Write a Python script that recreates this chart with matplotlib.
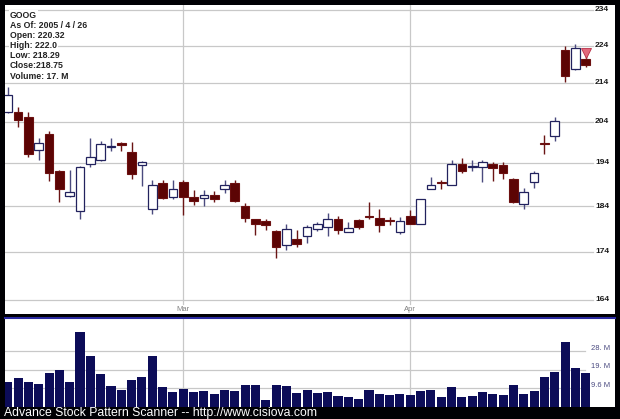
import matplotlib
matplotlib.use("Agg")
from matplotlib import pyplot as plt
from matplotlib import transforms

# daily bars, GOOG 2005-02-03 .. 2005-04-26
opens = [206.4, 206.6, 205.2, 197.2, 200.9, 192.0, 186.4, 182.8, 193.7, 194.6,
         197.8, 198.9, 196.6, 193.5, 183.3, 189.2, 186.0, 189.5, 186.0, 185.8,
         186.5, 187.8, 189.2, 184.1, 181.1, 180.6, 178.5, 175.5, 176.7, 177.3,
         178.8, 179.4, 181.2, 178.2, 180.8, 181.7, 181.3, 180.9, 178.2, 181.8,
         180.1, 187.8, 189.5, 188.8, 193.8, 193.1, 193.1, 193.7, 193.4, 190.2,
         184.4, 189.5, 198.7, 200.5, 222.9, 217.6, 220.32]
highs = [212.9, 207.8, 206.6, 200.1, 201.8, 192.4, 192.4, 193.2, 199.9, 199.4,
         200.1, 199.1, 199.1, 194.5, 189.9, 190.0, 190.0, 190.0, 187.7, 187.7,
         187.4, 189.9, 189.9, 184.8, 181.2, 181.0, 178.7, 180.1, 178.7, 179.7,
         180.5, 182.4, 181.7, 180.4, 181.0, 184.9, 183.4, 181.6, 181.5, 183.1,
         185.5, 190.6, 190.0, 194.6, 195.1, 194.6, 194.6, 194.3, 194.3, 190.4,
         188.1, 192.0, 200.7, 205.3, 224.0, 224.5, 222.0]
lows = [206.3, 202.8, 195.4, 194.6, 189.7, 185.0, 186.0, 181.0, 193.0, 194.4,
        196.8, 196.8, 190.3, 188.6, 182.3, 185.6, 185.6, 181.9, 184.3, 184.1,
        185.0, 186.9, 185.0, 180.4, 177.6, 178.7, 172.6, 174.3, 175.0, 175.8,
        178.4, 177.3, 177.9, 178.2, 179.0, 181.0, 178.2, 179.8, 177.8, 180.0,
        180.0, 187.8, 187.9, 188.8, 191.7, 192.2, 189.4, 189.7, 190.3, 184.7,
        183.3, 188.1, 196.2, 199.2, 214.2, 217.4, 218.29]
closes = [210.9, 204.5, 196.1, 198.9, 191.5, 188.0, 187.3, 193.0, 195.3, 198.6,
          198.0, 198.3, 191.4, 194.1, 188.9, 185.8, 188.0, 186.1, 185.2, 186.6,
          185.7, 188.9, 185.1, 181.4, 180.0, 179.8, 175.0, 178.8, 175.7, 179.3,
          180.1, 181.0, 178.7, 179.1, 179.3, 181.5, 179.8, 180.7, 180.6, 180.1,
          185.5, 188.8, 189.3, 193.8, 192.2, 193.3, 194.1, 192.9, 191.5, 184.9,
          187.2, 191.5, 198.5, 204.3, 215.9, 223.4, 218.75]
volumes = [13.1, 15.2, 13.1, 11.8, 17.6, 19.3, 13.1, 38.9, 26.2, 16.8,
           10.6, 8.7, 13.7, 15.7, 26.2, 10.1, 7.8, 9.5, 7.5, 8.0,
           6.6, 9.0, 8.1, 11.4, 11.1, 3.5, 11.4, 10.6, 7.0, 8.7,
           7.0, 7.6, 5.6, 5.1, 4.0, 9.0, 6.8, 6.4, 6.8, 6.4,
           8.1, 9.0, 5.3, 10.1, 5.3, 5.6, 7.5, 6.8, 6.4, 11.6,
           6.8, 8.5, 15.7, 17.9, 33.4, 20.2, 17.6]  # millions

price_ticks = [234, 224, 214, 204, 194, 184, 174, 164]
vol_ticks = [9.6, 19.2, 28.8]
vol_tick_labels = ["9.6 M", "19. M", "28. M"]
month_idx = [17, 39]
month_labels = ["Mar", "Apr"]
info_lines = ["GOOG", "As Of: 2005 / 4 / 26", "Open: 220.32", "High: 222.0",
              "Low: 218.29", "Close:218.75", "Volume: 17. M"]

W, H = 620, 419
fig = plt.figure(figsize=(W / 100, H / 100), dpi=100, facecolor="#000004")

def rect(x0, y0, x1, y1):
    # pixel box (top-left origin) -> figure fraction
    return [x0 / W, 1 - y1 / H, (x1 - x0) / W, (y1 - y0) / H]

ax = fig.add_axes(rect(5, 5, 615, 314))
vax = fig.add_axes(rect(5, 318, 615, 407))

n = len(opens)
for a in (ax, vax):
    a.set_facecolor("white")
    a.set_xlim(-0.27, 58.84)
    a.set_xticks([])
    a.set_yticks([])
    for s in a.spines.values():
        s.set_visible(False)

ax.set_yscale("log")
ax.set_ylim(161.2, 235.43)
ax.yaxis.set_minor_locator(matplotlib.ticker.NullLocator())
ax.set_yticks([])

grid_c = "#c8c8c8"
for v in price_ticks:
    ax.axhline(v, xmin=0, xmax=(593 - 5) / 610, color=grid_c, lw=0.9, zorder=0)
    ax.text((595 - 5) / 610, v, str(v), transform=ax.get_yaxis_transform(),
            ha="left", va="center", fontsize=6, fontweight="bold",
            family="Liberation Sans", color="#1a1a1a")

for i, lab in zip(month_idx, month_labels):
    ax.axvline(i, ymin=(314 - 304) / 309, ymax=1, color=grid_c, lw=0.9, zorder=0)
    ax.text(i, (314 - 309) / 309, lab, transform=ax.get_xaxis_transform(),
            ha="center", va="center", fontsize=5.5, family="Liberation Sans",
            color="#808080")
    vax.axvline(i, color=grid_c, lw=0.9, zorder=0)

# candles
bw = 0.84
for i in range(n):
    o, h, l, c = opens[i], highs[i], lows[i], closes[i]
    up = c >= o
    wick = "#4a4a7e" if up else "#6a1414"
    ax.vlines(i, l, h, color=wick, lw=1.0, zorder=2)
    lo, hi = min(o, c), max(o, c)
    if up:
        ax.bar(i, hi - lo, bottom=lo, width=bw, facecolor="white",
               edgecolor="#22225e", lw=0.9, zorder=3)
    else:
        ax.bar(i, hi - lo, bottom=lo, width=bw, facecolor="#5c0404",
               edgecolor="#6c1010", lw=0.8, zorder=3)

ax.plot(n - 1, highs[-1], marker="v", ms=7, mfc="#e2687c", mec="#b83048",
        mew=0.6, zorder=4)

for k, s in enumerate(info_lines):
    fig.text(10 / W, 1 - (15 + k * 10.2) / H, s, ha="left", va="center",
             fontsize=6.3, fontweight="bold", family="Liberation Sans",
             color="#222222", zorder=5,
             bbox=dict(facecolor="white", edgecolor="none", pad=0.6))

# volume
vax.set_ylim(0, 45.9)
for v, lab in zip(vol_ticks, vol_tick_labels):
    vax.axhline(v, xmin=0, xmax=(585 - 5) / 610, color=grid_c, lw=0.9, zorder=0)
    tr = transforms.offset_copy(vax.get_yaxis_transform(), fig=fig, y=3, units="dots")
    vax.text((591 - 5) / 610, v, lab, transform=tr, ha="left", va="center",
             fontsize=5.5, family="Liberation Sans", color="#4a4a80", zorder=5)
vax.bar(range(n), volumes, width=0.88, color="#0c0c58", zorder=2)
vax.spines["top"].set_visible(True)
vax.spines["top"].set_color("#2a2aa0")
vax.spines["top"].set_linewidth(1.5)

fig.text(4 / W, 1 - 413 / H, "Advance Stock Pattern Scanner -- http://www.cisiova.com",
         ha="left", va="center", fontsize=8.8, family="Liberation Sans",
         color="white")

fig.savefig("out.png", dpi=100, facecolor=fig.get_facecolor())
